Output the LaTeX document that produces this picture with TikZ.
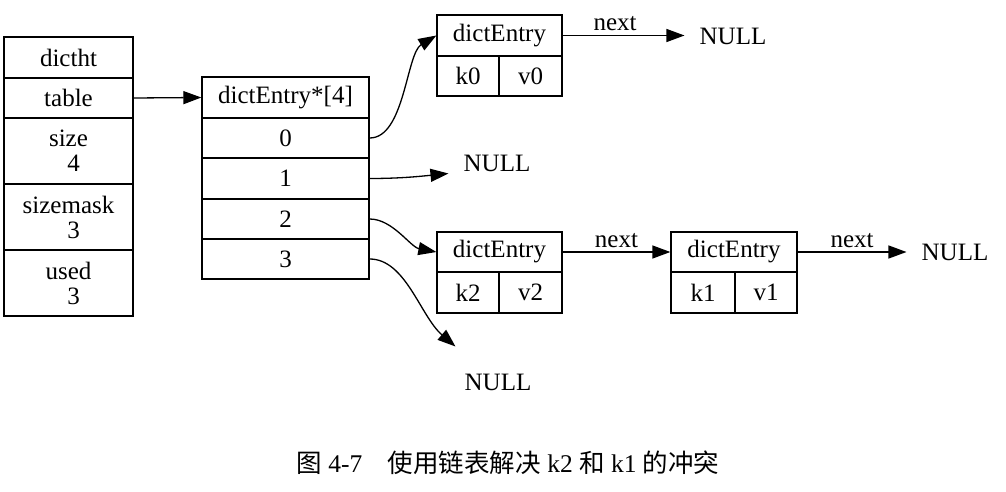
\documentclass[tikz,border=0pt]{standalone}
\usepackage{fontspec}
\setmainfont{Liberation Serif}
\newfontfamily\cjk{Noto Sans CJK SC}
\usetikzlibrary{arrows.meta}
\begin{document}
\begin{tikzpicture}[x=1pt,y=-1pt,
  cell/.style={draw, line width=1.3pt, inner sep=0pt, align=center,
    font=\fontsize{25}{25}\selectfont, anchor=center},
  nullnode/.style={inner xsep=15pt, inner ysep=2pt, font=\fontsize{25}{25}\selectfont},
  nextlbl/.style={above, inner sep=4pt, font=\fontsize{25}{25}\selectfont},
  arr/.style={line width=1.3pt, -{Triangle[length=18pt,width=13pt]}},
]
\useasboundingbox (0,0) rectangle (1006,492);
% dictht
\node[cell, minimum width=129pt, minimum height=41pt] (ht) at (68.5,57.5) {dictht};
\node[cell, minimum width=129pt, minimum height=40pt] (table) at (68.5,98) {table};
\node[cell, minimum width=129pt, minimum height=66pt] (size) at (68.5,151) {size\\\hspace*{10pt}4};
\node[cell, minimum width=129pt, minimum height=66pt] (mask) at (68.5,217) {sizemask\\\hspace*{10pt}3};
\node[cell, minimum width=129pt, minimum height=66pt] (used) at (68.5,283) {used\\\hspace*{10pt}3};
% array
\node[cell, minimum width=167pt, minimum height=41pt] (hdr) at (285.5,97.5) {dictEntry*[4]};
\node[cell, minimum width=167pt, minimum height=40pt] (a0) at (285.5,138) {0};
\node[cell, minimum width=167pt, minimum height=41pt] (a1) at (285.5,178.5) {1};
\node[cell, minimum width=167pt, minimum height=40pt] (a2) at (285.5,219) {2};
\node[cell, minimum width=167pt, minimum height=40pt] (a3) at (285.5,259) {3};
% entry k0
\node[cell, minimum width=125pt, minimum height=41pt] (k0h) at (499.5,35.5) {dictEntry};
\node[cell, minimum width=62pt, minimum height=40pt] (k0) at (468,76) {k0};
\node[cell, minimum width=63pt, minimum height=40pt] (v0) at (530.5,76) {v0};
% entry k2
\node[cell, minimum width=125pt, minimum height=40pt] (k2h) at (499.5,252) {dictEntry};
\node[cell, minimum width=62pt, minimum height=41pt] (k2) at (468,292.5) {k2};
\node[cell, minimum width=63pt, minimum height=41pt] (v2) at (530.5,292.5) {v2};
% entry k1
\node[cell, minimum width=126pt, minimum height=40pt] (k1h) at (734,252) {dictEntry};
\node[cell, minimum width=64pt, minimum height=41pt] (k1) at (703,292.5) {k1};
\node[cell, minimum width=62pt, minimum height=41pt] (v1) at (766,292.5) {v1};
% NULLs
\node[nullnode] (n0) at (733,36) {NULL};
\node[nullnode] (n1) at (497,163) {NULL};
\node[nullnode] (n2) at (955,252) {NULL};
\node[nullnode] (n3) at (498,382) {NULL};
% connectors
\draw[arr] (table.east) -- (hdr.west);
\draw[arr] (a0.east) .. controls +(35,0) and +(-30,18) .. (k0h.west);
\draw[arr] (a1.east) .. controls +(30,0) and +(-30,3) .. (n1.south west);
\draw[arr] (a2.east) .. controls +(23,0) and +(-26,-5) .. (k2h.west);
\draw[arr] (a3.east) .. controls +(36,0) and +(-35,-30) .. ([shift={(6,-25)}]n3.north west);
\draw[arr] (k0h.east) -- node[nextlbl, pos=0.43] {next} (k0h.east -| n0.west);
\draw[arr] (k2h.east) -- node[nextlbl] {next} (k1h.west);
\draw[arr] (k1h.east) -- node[nextlbl] {next} (k1h.east -| n2.west);
% caption
\node[font=\fontsize{25.5}{25.5}\selectfont] (cap) at (508,463)
  {{\cjk 图} 4-7\hspace{1em}{\cjk 使用链表解决} k2 {\cjk 和} k1 {\cjk 的冲突}};
\end{tikzpicture}
\end{document}
